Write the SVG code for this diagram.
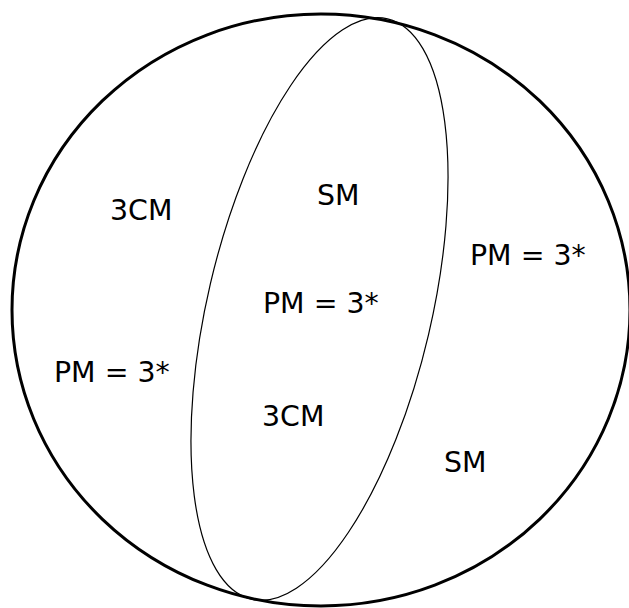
<svg xmlns="http://www.w3.org/2000/svg" width="629" height="608" viewBox="0 0 629 608">
<style>
.lbl{font-family:"DejaVu Sans",sans-serif;font-size:28.4px;fill:#000}
.outer{fill:none;stroke:#000;stroke-width:3}
.inner{fill:none;stroke:#000;stroke-width:1.2}
</style>
<rect width="629" height="608" fill="#fff"/>
<g id="outer-set"><ellipse class="outer" cx="321" cy="310" rx="309" ry="296"/></g>
<g id="inner-set"><ellipse class="inner" cx="0" cy="0" rx="112" ry="298" transform="translate(319.5,309) rotate(13.2)"/></g>
<g id="labels">
<text class="lbl" x="110" y="220">3CM</text>
<text class="lbl" x="317" y="205">SM</text>
<text class="lbl" x="470" y="265">PM = 3*</text>
<text class="lbl" x="263" y="313">PM = 3*</text>
<text class="lbl" x="54" y="382">PM = 3*</text>
<text class="lbl" x="262" y="426">3CM</text>
<text class="lbl" x="444" y="472">SM</text>
</g>
</svg>
